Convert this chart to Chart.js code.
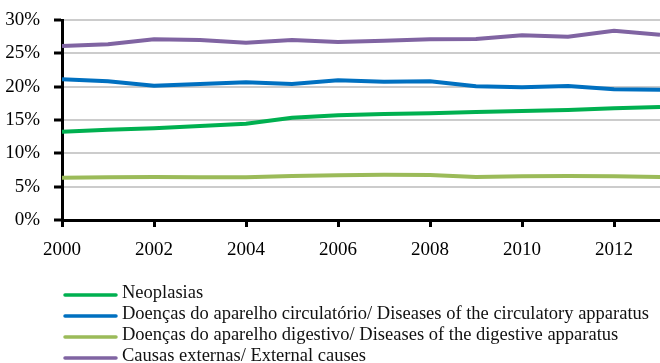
<!DOCTYPE html>
<html>
<head>
<meta charset="utf-8">
<script src="https://cdn.jsdelivr.net/npm/chart.js@4/dist/chart.umd.min.js"></script>
<style>
  html, body { margin: 0; padding: 0; background: #fff; }
  #wrap { width: 660px; height: 363px; position: relative; }
</style>
</head>
<body>
<div id="wrap"><canvas id="c" width="660" height="363"></canvas></div>
<script>
// Share of deaths by cause, 2000-2013 (%)
const years = [2000, 2001, 2002, 2003, 2004, 2005, 2006, 2007, 2008, 2009, 2010, 2011, 2012, 2013];
const neoplasias   = [13.25, 13.55, 13.75, 14.1, 14.45, 15.35, 15.7, 15.9, 16.0, 16.2, 16.35, 16.5, 16.75, 16.95];
const circulatorio = [21.1, 20.8, 20.15, 20.4, 20.65, 20.4, 20.95, 20.75, 20.8, 20.05, 19.9, 20.1, 19.6, 19.55];
const digestivo    = [6.35, 6.4, 6.45, 6.4, 6.4, 6.6, 6.7, 6.8, 6.75, 6.45, 6.55, 6.6, 6.55, 6.45];
const externas     = [26.1, 26.35, 27.1, 27.0, 26.6, 27.0, 26.7, 26.9, 27.1, 27.15, 27.7, 27.5, 28.4, 27.8];

const seriesLabels = [
  'Neoplasias',
  'Doenças do aparelho circulatório/ Diseases of the circulatory apparatus',
  'Doenças do aparelho digestivo/ Diseases of the digestive apparatus',
  'Causas externas/ External causes'
];
const seriesColors = ['#00b050', '#0070c0', '#9bbb59', '#8064a2'];
const seriesValues = [neoplasias, circulatorio, digestivo, externas];

const FONT = '"Liberation Serif", "DejaVu Serif", serif';

// Legend stacked in rows beneath the plot, one series per row
const rowLegend = {
  id: 'rowLegend',
  afterDraw(chart) {
    const ctx = chart.ctx;
    ctx.save();
    ctx.font = '18.5px ' + FONT;
    ctx.textBaseline = 'middle';
    ctx.textAlign = 'left';
    chart.data.datasets.forEach((ds, i) => {
      const y = 293 + i * 21;
      ctx.strokeStyle = ds.borderColor;
      ctx.lineWidth = 3.5;
      ctx.lineCap = 'round';
      ctx.beginPath();
      ctx.moveTo(65, y + 2);
      ctx.lineTo(116, y + 2);
      ctx.stroke();
      ctx.fillStyle = '#111';
      ctx.fillText(ds.label, 122, y);
    });
    ctx.restore();
  }
};

new Chart(document.getElementById('c'), {
  type: 'line',
  data: {
    datasets: seriesLabels.map((label, i) => ({
      label,
      data: years.map((yr, k) => ({ x: yr, y: seriesValues[i][k] })),
      borderColor: seriesColors[i],
      backgroundColor: seriesColors[i],
      borderWidth: 4,
      pointRadius: 0,
      tension: 0,
      fill: false
    }))
  },
  options: {
    responsive: false,
    animation: false,
    devicePixelRatio: 1,
    layout: { padding: { top: 20, right: 0, left: 0, bottom: 98 } },
    plugins: {
      legend: { display: false },
      tooltip: { enabled: false }
    },
    scales: {
      x: {
        type: 'linear',
        min: 2000,
        max: 2013,
        afterBuildTicks(scale) {
          scale.ticks = years.filter(y => y % 2 === 0).map(v => ({ value: v }));
        },
        afterFit(scale) { scale.height = 45; },
        ticks: {
          font: { family: FONT, size: 19 },
          color: '#000',
          padding: 12,
          maxRotation: 0,
          callback: v => String(v)
        },
        grid: {
          drawOnChartArea: false,
          drawTicks: true,
          tickLength: 7,
          tickWidth: 3,
          tickColor: '#000'
        },
        border: { color: '#000', width: 3 }
      },
      y: {
        min: 0,
        max: 30,
        afterFit(scale) {
          scale.width = 62;
          scale.paddingTop = 0;
          scale.paddingBottom = 0;
        },
        ticks: {
          stepSize: 5,
          font: { family: FONT, size: 19 },
          color: '#000',
          padding: 14,
          callback: v => v + '%'
        },
        grid: {
          color: '#cccccc',
          lineWidth: 2,
          tickLength: 8,
          tickWidth: 3,
          tickColor: '#000'
        },
        border: { color: '#000', width: 3 }
      }
    }
  },
  plugins: [rowLegend]
});
</script>
</body>
</html>
